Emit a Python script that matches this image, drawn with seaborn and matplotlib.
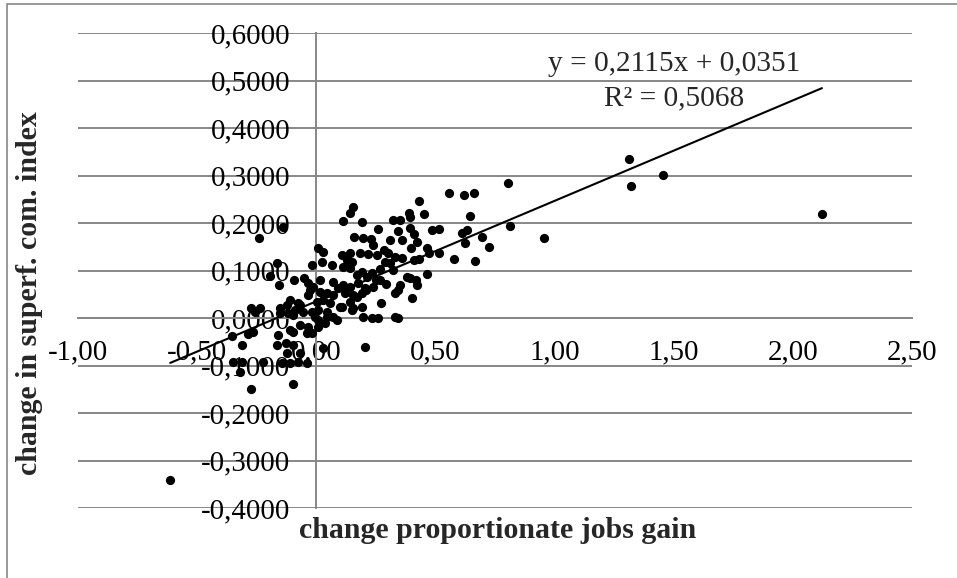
import numpy as np
import pandas as pd
import matplotlib
matplotlib.use("Agg")
import matplotlib.pyplot as plt
import seaborn as sns
from matplotlib.patches import Rectangle

# ---- data ----
job_gain = [
    2.122, 1.311, 1.319, 1.454, 0.954, 0.811, 0.803, 0.559, 0.618, 0.660,
    0.433, 0.155, 0.143, 0.113, 0.193, 0.387, 0.395, 0.454, 0.647, 0.324,
    0.353, 0.261, 0.345, 0.395, 0.487, 0.513, 0.634, 0.613, 0.408, -0.139,
    -0.239, 0.160, 0.197, 0.231, 0.311, 0.361, 0.697, 0.239, 0.424, 0.626,
    0.723, 0.286, 0.466, 0.399, 0.008, 0.029, 0.471, 0.513, 0.109, 0.143,
    0.185, 0.218, 0.256, 0.303, 0.332, 0.361, 0.408, 0.433, 0.576, 0.664,
    0.130, 0.151, 0.025, -0.017, 0.067, 0.290, 0.311, -0.164, 0.113, 0.143,
    0.269, 0.324, 0.172, 0.193, 0.214, 0.235, 0.252, -0.193, 0.466, 0.382,
    0.395, 0.420, 0.424, 0.353, 0.345, 0.332, -0.155, -0.092, -0.050, -0.034,
    -0.013, 0.017, 0.071, 0.092, 0.113, 0.143, 0.176, 0.206, 0.239, 0.269,
    -0.034, 0.017, 0.046, 0.071, 0.122, 0.155, 0.193, -0.076, -0.109, -0.122,
    0.004, 0.029, 0.059, 0.101, 0.143, 0.155, 0.193, 0.273, 0.403, -0.273,
    -0.235, -0.256, -0.151, -0.088, -0.055, -0.017, -0.004, 0.008, 0.046, 0.088,
    0.151, 0.197, 0.235, 0.261, 0.332, 0.345, -0.151, -0.097, -0.067, -0.034,
    0.008, 0.038, -0.038, -0.017, -0.109, -0.097, -0.265, -0.286, -0.353, -0.311,
    -0.160, -0.164, -0.126, -0.097, -0.122, -0.067, -0.076, -0.038, -0.109, 0.029,
    0.206, -0.349, -0.311, -0.319, -0.223, -0.143, -0.273, -0.097, -0.613,
    0.294, 0.210, -0.025, 0.172, 0.008, 0.071, 0.046, 0.109, -0.118, -0.067,
]
superf_index = [
    0.219, 0.335, 0.278, 0.301, 0.168, 0.194, 0.284, 0.263, 0.259, 0.263,
    0.246, 0.234, 0.221, 0.204, 0.202, 0.221, 0.213, 0.219, 0.215, 0.206,
    0.206, 0.187, 0.183, 0.189, 0.185, 0.187, 0.185, 0.179, 0.177, 0.192,
    0.168, 0.171, 0.168, 0.166, 0.164, 0.164, 0.171, 0.154, 0.160, 0.158,
    0.149, 0.143, 0.147, 0.147, 0.147, 0.139, 0.137, 0.137, 0.133, 0.137,
    0.137, 0.135, 0.133, 0.137, 0.128, 0.126, 0.122, 0.124, 0.124, 0.120,
    0.122, 0.118, 0.118, 0.112, 0.112, 0.118, 0.116, 0.116, 0.107, 0.105,
    0.103, 0.101, 0.091, 0.097, 0.086, 0.095, 0.080, 0.088, 0.093, 0.086,
    0.084, 0.080, 0.069, 0.069, 0.059, 0.053, 0.069, 0.080, 0.084, 0.074,
    0.065, 0.080, 0.076, 0.063, 0.069, 0.065, 0.074, 0.063, 0.065, 0.080,
    0.048, 0.055, 0.053, 0.048, 0.053, 0.048, 0.053, 0.032, 0.038, 0.027,
    0.034, 0.038, 0.032, 0.023, 0.034, 0.021, 0.023, 0.032, 0.042, 0.021,
    0.021, 0.013, 0.021, 0.017, 0.013, 0.013, 0.002, -0.004, 0.002, -0.004,
    0.017, 0.002, 0.000, 0.000, 0.002, 0.000, 0.011, 0.006, -0.015, -0.019,
    -0.019, -0.011, -0.032, -0.032, -0.025, -0.029, -0.029, -0.034, -0.038, -0.057,
    -0.036, -0.057, -0.053, -0.057, -0.074, -0.074, -0.093, -0.095, -0.095, -0.063,
    -0.061, -0.093, -0.093, -0.114, -0.093, -0.095, -0.149, -0.139, -0.341,
    0.072, 0.059, 0.059, 0.044, 0.017, 0.002, 0.013, 0.023, 0.011, 0.027,
]
trend_slope = 0.2115
trend_intercept = 0.0351
trend_r2 = 0.5068
x_ticks = [-1.0, -0.5, 0.0, 0.5, 1.0, 1.5, 2.0, 2.5]
y_ticks = [-0.4, -0.3, -0.2, -0.1, 0.0, 0.1, 0.2, 0.3, 0.4, 0.5, 0.6]
x_title = "change proportionate jobs gain"
y_title = "change in superf. com. index"

# ---- styling ----
sns.set_theme(style="white")
plt.rcParams['font.family'] = ['Liberation Serif', 'DejaVu Serif']
GRID = '#878787'
W, H = 957, 578

fig = plt.figure(figsize=(W / 100, H / 100), dpi=100)
ax = fig.add_axes([78 / W, 1 - 508 / H, 834 / W, 475 / H])
ax.set_axisbelow(True)

df = pd.DataFrame({'x': job_gain, 'y': superf_index})
sns.scatterplot(data=df, x='x', y='y', ax=ax, color='black', s=44,
                linewidth=0, zorder=3, legend=False)

xs = np.array([df['x'].min(), df['x'].max()])
sns.lineplot(x=xs, y=trend_slope * xs + trend_intercept, ax=ax,
             color='black', linewidth=1.5, zorder=4)

ax.set_xlim(x_ticks[0], x_ticks[-1])
ax.set_ylim(y_ticks[0], y_ticks[-1])
ax.set_xticks(x_ticks)
ax.set_yticks(y_ticks)
ax.set_xticklabels([f"{v + 0.0:.2f}".replace('.', ',') for v in x_ticks])
ax.set_yticklabels([f"{v + 0.0:.4f}".replace('.', ',') for v in y_ticks])
ax.set_xlabel('')
ax.set_ylabel('')

ax.yaxis.grid(True, color=GRID, linewidth=1.4)
ax.xaxis.grid(False)
for s in ['top', 'right']:
    ax.spines[s].set_visible(False)
ax.spines['left'].set_position(('data', 0))
ax.spines['bottom'].set_position(('data', 0))
for s in ['left', 'bottom']:
    ax.spines[s].set_color(GRID)
    ax.spines[s].set_linewidth(1.4)

ax.tick_params(axis='both', length=0, labelsize=20.8, colors='black')
ax.tick_params(axis='y', pad=18.5)
ax.tick_params(axis='x', pad=15.5)

fig.text(498 / W, 1 - 531 / H, x_title, ha='center', va='center',
         fontsize=21.5, fontweight='bold')
fig.text(30 / W, 1 - 293 / H, y_title, ha='center', va='center',
         rotation=90, fontsize=21.5, fontweight='bold')

fig.text(674 / W, 1 - 71 / H, f"y = {trend_slope:.4f}x + {trend_intercept:.4f}".replace('.', ','),
         ha='center', va='baseline', fontsize=21.2)
fig.text(674 / W, 1 - 105 / H, f"R² = {trend_r2:.4f}".replace('.', ','),
         ha='center', va='baseline', fontsize=21.2)

fig.add_artist(Rectangle((7 / W, -0.05), 1.2, 1 - 4 / H + 0.05,
                         transform=fig.transFigure, fill=False,
                         edgecolor=GRID, linewidth=1.2))

fig.savefig("out.png", dpi=100)
